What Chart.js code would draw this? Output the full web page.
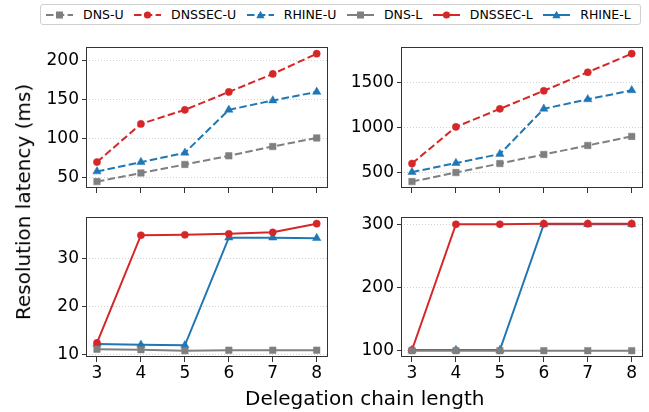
<!DOCTYPE html>
<html><head><meta charset="utf-8">
<script src="https://cdn.jsdelivr.net/npm/chart.js@4.4.0/dist/chart.umd.min.js"></script>
<style>
html,body{margin:0;padding:0;background:#fff;}
body{width:649px;height:412px;position:relative;overflow:hidden;font-family:'DejaVu Sans';color:#000;}
canvas{position:absolute;}
#legend{position:absolute;left:40px;top:4px;width:594px;height:19px;border:1px solid #d0d0d0;border-radius:3px;background:#fff;display:flex;align-items:center;padding-left:5px;box-sizing:content-box;font-size:12.5px;white-space:nowrap;}
#legend .item{display:flex;align-items:center;margin-right:10.5px;}
#legend svg{margin-right:10px;display:block;}
.lab{position:absolute;font-size:20px;line-height:20px;white-space:nowrap;}
</style></head><body>
<div id="legend"></div>
<canvas id="tl"></canvas><canvas id="tr"></canvas><canvas id="bl"></canvas><canvas id="br"></canvas>
<div class="lab" id="ylab">Resolution latency (ms)</div>
<div class="lab" id="xlab">Delegation chain length</div>
<script>
// ---- data ----
const chainLengths = [3, 4, 5, 6, 7, 8];
const dnsU_small    = [45, 56, 67, 78, 90, 101];
const dnssecU_small = [70, 119, 137, 160, 183, 209];
const rhineU_small  = [58, 70, 82, 137, 149, 160];
const dnsU_large    = [400, 500, 600, 700, 800, 900];
const dnssecU_large = [600, 1005, 1205, 1405, 1610, 1815];
const rhineU_large  = [505, 605, 705, 1205, 1310, 1410];
const dnsL_small    = [11.2, 11.1, 10.9, 11.0, 11.0, 11.0];
const dnssecL_small = [12.5, 34.8, 34.9, 35.1, 35.4, 37.2];
const rhineL_small  = [12.3, 12.1, 12.0, 34.3, 34.3, 34.2];
const dnsL_large    = [100, 100, 100, 100, 100, 100];
const dnssecL_large = [101, 301, 301, 302, 302, 302];
const rhineL_large  = [101, 101, 101, 301, 301, 301];
const xTicks = [3, 4, 5, 6, 7, 8];
const yTicksTL = [50, 100, 150, 200];
const yTicksTR = [500, 1000, 1500];
const yTicksBL = [10, 20, 30];
const yTicksBR = [100, 200, 300];
const seriesLabels = ['DNS-U', 'DNSSEC-U', 'RHINE-U', 'DNS-L', 'DNSSEC-L', 'RHINE-L'];

// ---- styles ----
const GREY = '#7f7f7f', RED = '#d62728', BLUE = '#1f77b4';
const DASH = [7.5, 3.3];
const styleOf = {
  'DNS-U':    {color: GREY, dash: DASH, marker: 'rect'},
  'DNSSEC-U': {color: RED,  dash: DASH, marker: 'circle'},
  'RHINE-U':  {color: BLUE, dash: DASH, marker: 'triangle'},
  'DNS-L':    {color: GREY, dash: [],   marker: 'rect'},
  'DNSSEC-L': {color: RED,  dash: [],   marker: 'circle'},
  'RHINE-L':  {color: BLUE, dash: [],   marker: 'triangle'}
};
const radiusOf = {rect: 4.6, circle: 3.6, triangle: 4.8};

Chart.defaults.font.family = "'DejaVu Sans'";
Chart.defaults.font.size = 17;
Chart.defaults.color = '#000';

function ds(label, values) {
  const s = styleOf[label];
  return {
    label, data: chainLengths.map((x, i) => ({x, y: values[i]})),
    borderColor: s.color, backgroundColor: s.color, borderWidth: 2, borderDash: s.dash,
    pointStyle: s.marker, pointRadius: radiusOf[s.marker], pointBorderWidth: 0.5,
    pointBackgroundColor: s.color, pointBorderColor: s.color, tension: 0, fill: false
  };
}
function range(arrs) {
  const all = [].concat(...arrs);
  const mn = Math.min(...all), mx = Math.max(...all), m = (mx - mn) * 0.05;
  return [mn - m, mx + m];
}
const framePlugin = {
  id: 'frame',
  afterDatasetsDraw(chart) {
    const a = chart.chartArea, c = chart.ctx;
    c.save(); c.strokeStyle = '#333'; c.lineWidth = 1;
    c.strokeRect(Math.round(a.left) + 0.5, Math.round(a.top) + 0.5, Math.round(a.right - a.left) - 1, Math.round(a.bottom - a.top) - 1);
    c.restore();
  }
};

const PLOT_W = 242, YAX_W = 60, PAD_T = 5, PAD_R = 5;
function makeChart(id, left, top, plotH, datasets, yTicks, showX) {
  const xH = showX ? 30 : 10;
  const cv = document.getElementById(id);
  const w = YAX_W + PLOT_W + PAD_R, h = PAD_T + plotH + xH;
  cv.width = w; cv.height = h;
  cv.style.left = (left - YAX_W) + 'px'; cv.style.top = (top - PAD_T) + 'px';
  cv.style.width = w + 'px'; cv.style.height = h + 'px';
  const [ymin, ymax] = range(datasets.map(d => d.data.map(p => p.y)));
  new Chart(cv, {
    type: 'line',
    data: {datasets},
    options: {
      responsive: false, animation: false, devicePixelRatio: 1,
      layout: {padding: {top: PAD_T, right: PAD_R, left: 0, bottom: 0}},
      plugins: {legend: {display: false}, tooltip: {enabled: false}},
      scales: {
        x: {
          type: 'linear', min: 2.75, max: 8.25,
          afterBuildTicks: s => { s.ticks = xTicks.map(v => ({value: v})); },
          afterFit: s => { s.height = xH; s.paddingLeft = 0; s.paddingRight = 0; s.paddingTop = 0; s.paddingBottom = 0; },
          ticks: {display: showX, padding: 1, callback: v => String(v), maxRotation: 0},
          grid: {display: true, drawOnChartArea: false, drawTicks: true, tickLength: 5, tickColor: '#333', tickWidth: 1},
          border: {display: false}
        },
        y: {
          type: 'linear', min: ymin, max: ymax,
          afterBuildTicks: s => { s.ticks = yTicks.map(v => ({value: v})); },
          afterFit: s => { s.width = YAX_W; s.paddingTop = 0; s.paddingBottom = 0; s.paddingLeft = 0; s.paddingRight = 0; },
          ticks: {padding: 3, callback: v => String(v)},
          grid: {display: true, drawOnChartArea: true, color: '#c4c4c4', lineWidth: 0.8, drawTicks: true, tickLength: 4, tickColor: '#333', tickWidth: 1, tickBorderDash: []},
          border: {display: false, dash: [1, 2]}
        }
      }
    },
    plugins: [framePlugin]
  });
}

makeChart('tl', 86, 47, 141, [ds('DNS-U', dnsU_small), ds('DNSSEC-U', dnssecU_small), ds('RHINE-U', rhineU_small)], yTicksTL, false);
makeChart('tr', 401, 47, 141, [ds('DNS-U', dnsU_large), ds('DNSSEC-U', dnssecU_large), ds('RHINE-U', rhineU_large)], yTicksTR, false);
makeChart('bl', 86, 217, 140, [ds('DNS-L', dnsL_small), ds('DNSSEC-L', dnssecL_small), ds('RHINE-L', rhineL_small)], yTicksBL, true);
makeChart('br', 401, 217, 140, [ds('DNS-L', dnsL_large), ds('DNSSEC-L', dnssecL_large), ds('RHINE-L', rhineL_large)], yTicksBR, true);

// ---- legend ----
const legend = document.getElementById('legend');
seriesLabels.forEach(lbl => {
  const s = styleOf[lbl];
  const item = document.createElement('div'); item.className = 'item';
  let mk = '';
  if (s.marker === 'rect') mk = `<rect x="10" y="1.5" width="7" height="7" fill="${s.color}"/>`;
  else if (s.marker === 'circle') mk = `<circle cx="13.5" cy="5" r="3.6" fill="${s.color}"/>`;
  else mk = `<polygon points="13.5,0.8 17.6,8.2 9.4,8.2" fill="${s.color}"/>`;
  const dash = s.dash.length ? `stroke-dasharray="${s.dash.join(' ')}"` : '';
  item.innerHTML = `<svg width="27" height="10"><line x1="0" y1="5" x2="27" y2="5" stroke="${s.color}" stroke-width="2" ${dash}/>${mk}</svg><span>${lbl}</span>`;
  legend.appendChild(item);
});

// ---- axis labels ----
const xl = document.getElementById('xlab');
xl.style.left = (364.5 - xl.offsetWidth / 2) + 'px'; xl.style.top = '388px';
const yl = document.getElementById('ylab');
yl.style.left = (23 - yl.offsetWidth / 2) + 'px'; yl.style.top = (202 - 10) + 'px';
yl.style.transform = 'rotate(-90deg)';
</script>
</body></html>
